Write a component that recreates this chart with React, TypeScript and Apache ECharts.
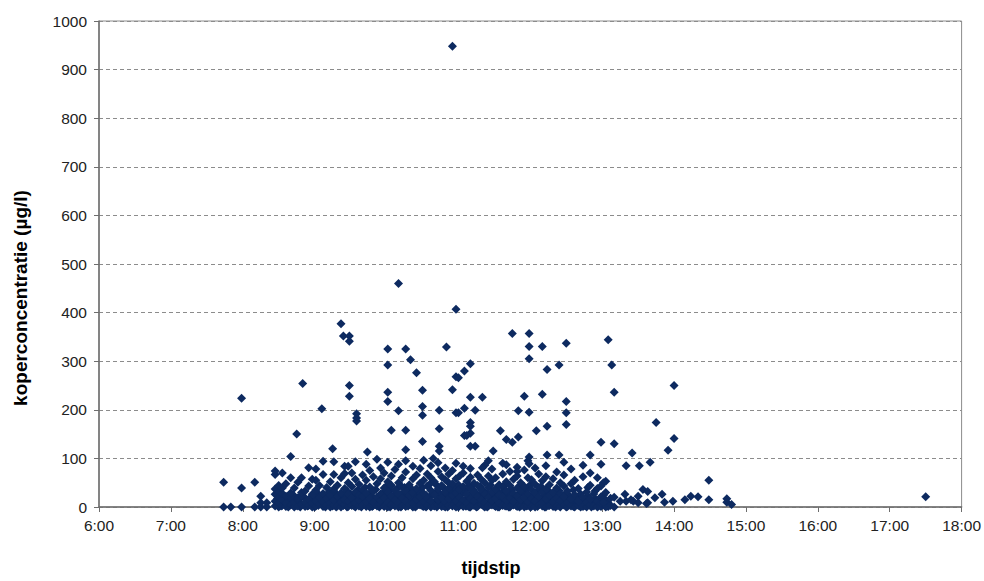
import React, { useEffect, useRef } from "react";
import * as echarts from "echarts";

// X tick labels (hours 6..18)
const xTickLabels = ["6:00", "7:00", "8:00", "9:00", "10:00", "11:00", "12:00", "13:00", "14:00", "15:00", "16:00", "17:00", "18:00"];
const yTickValues = [0, 100, 200, 300, 400, 500, 600, 700, 800, 900, 1000];

// Early-morning points (time, value)
const earlyPoints: [string, number][] = [
  ["7:44", 0], ["7:44", 51], ["7:50", 0], ["7:59", 0], ["7:59", 39], ["7:59", 224],
  ["8:10", 51], ["8:10", 0], ["8:15", 22], ["8:15", 9], ["8:15", 0], ["8:20", 9], ["8:20", 0],
];

// Dense low-concentration columns (time, values in µg/l)
const lowColumns: [string, number[]][] = [
  ["8:27", [2, 12, 26, 37, 67, 74]],
  ["8:30", [0, 8, 20, 31, 44]],
  ["8:33", [3, 15, 28, 39, 70]],
  ["8:36", [1, 9, 22, 48]],
  ["8:40", [4, 19, 29, 60]],
  ["8:43", [0, 11, 39]],
  ["8:46", [2, 14, 51, 19]],
  ["8:49", [5, 24, 60, 30]],
  ["8:52", [1, 10, 33]],
  ["8:55", [3, 16, 43, 81]],
  ["8:58", [0, 8, 26, 57]],
  ["9:01", [2, 13, 35, 78, 55]],
  ["9:04", [6, 20, 44]],
  ["9:07", [1, 11, 28, 67, 94]],
  ["9:10", [3, 17, 40]],
  ["9:13", [0, 9, 24, 52]],
  ["9:16", [4, 14, 33, 93, 67, 37]],
  ["9:19", [2, 21, 45]],
  ["9:22", [0, 10, 29, 60]],
  ["9:25", [5, 16, 38, 84, 69]],
  ["9:28", [1, 12, 26, 50, 84]],
  ["9:31", [3, 19, 42, 70]],
  ["9:34", [0, 8, 31, 57, 93]],
  ["9:37", [2, 15, 24, 47]],
  ["9:40", [4, 22, 36, 66]],
  ["9:43", [1, 11, 29, 55, 88]],
  ["9:46", [0, 17, 41, 75]],
  ["9:49", [3, 9, 33, 62]],
  ["9:52", [2, 20, 48, 98]],
  ["9:55", [5, 13, 27, 58, 80]],
  ["9:58", [1, 18, 39, 70]],
  ["10:01", [0, 10, 31, 52, 92]],
  ["10:04", [4, 22, 45, 64]],
  ["10:07", [2, 14, 35, 77]],
  ["10:10", [0, 8, 27, 50, 88]],
  ["10:13", [3, 19, 41, 60]],
  ["10:16", [1, 12, 33, 72, 95]],
  ["10:19", [5, 24, 46]],
  ["10:22", [0, 9, 30, 58, 84]],
  ["10:25", [2, 16, 38, 66]],
  ["10:28", [4, 21, 49, 79]],
  ["10:31", [1, 11, 28, 55, 96]],
  ["10:34", [3, 18, 43, 68]],
  ["10:37", [0, 13, 34, 60, 85]],
  ["10:40", [2, 25, 52]],
  ["10:43", [5, 15, 37, 73, 91]],
  ["10:46", [1, 20, 44, 62]],
  ["10:49", [0, 10, 31, 56, 80]],
  ["10:52", [3, 17, 39, 68]],
  ["10:55", [2, 23, 48, 75]],
  ["10:58", [0, 12, 29, 58, 90]],
  ["11:01", [4, 19, 36, 64]],
  ["11:04", [1, 14, 42, 70, 84]],
  ["11:07", [2, 8, 26, 53]],
  ["11:10", [0, 18, 38, 61, 79]],
  ["11:13", [3, 12, 30, 49]],
  ["11:16", [1, 22, 44, 66]],
  ["11:19", [5, 15, 35, 57]],
  ["11:22", [0, 10, 27, 50, 86]],
  ["11:25", [2, 20, 40, 64]],
  ["11:28", [4, 13, 31, 55, 78]],
  ["11:31", [1, 17, 37, 60]],
  ["11:34", [0, 9, 25, 46]],
  ["11:37", [3, 21, 41, 68, 90]],
  ["11:40", [2, 14, 33, 52]],
  ["11:43", [0, 18, 44, 73]],
  ["11:46", [4, 11, 28, 57]],
  ["11:49", [1, 23, 39, 64, 82]],
  ["11:52", [2, 15, 34, 50]],
  ["11:55", [0, 19, 42, 76]],
  ["11:58", [3, 10, 27, 60, 95]],
  ["12:01", [1, 17, 36, 56]],
  ["12:04", [0, 12, 29, 47, 80]],
  ["12:07", [4, 21, 40, 68]],
  ["12:10", [2, 9, 31, 54]],
  ["12:13", [0, 16, 37, 62, 85]],
  ["12:16", [3, 24, 46]],
  ["12:19", [1, 11, 30, 58]],
  ["12:22", [2, 18, 39, 72]],
  ["12:25", [0, 13, 28, 50]],
  ["12:28", [4, 20, 43, 66, 92]],
  ["12:31", [1, 10, 33]],
  ["12:34", [2, 17, 48, 78]],
  ["12:37", [0, 25, 55]],
  ["12:40", [3, 12, 38]],
  ["12:44", [1, 20, 62, 86]],
  ["12:47", [0, 9, 31]],
  ["12:50", [4, 16, 45, 70]],
  ["12:53", [2, 27]],
  ["12:56", [0, 11, 38, 60]],
  ["12:59", [1, 21, 9]],
  ["13:03", [0, 14, 30]],
  ["13:07", [3, 18]],
  ["13:10", [0]],
];

// Extra points filling the solid band near zero
const baseColumns: [string, number[]][] = [
  ["8:29", [5, 17]], ["8:32", [2, 24]], ["8:35", [6, 13]], ["8:38", [0, 16]], ["8:42", [7, 25]],
  ["8:45", [3, 12]], ["8:48", [0, 18]], ["8:51", [6, 21]], ["8:54", [2, 9]], ["8:57", [4, 19]],
  ["9:00", [0, 6, 22]], ["9:03", [3, 12, 27]], ["9:06", [5, 16]], ["9:09", [0, 8, 23]], ["9:12", [4, 13, 30]],
  ["9:15", [2, 7, 20]], ["9:18", [0, 11, 27]], ["9:21", [5, 17]], ["9:24", [3, 8, 22]], ["9:27", [0, 19, 33]],
  ["9:30", [6, 11, 26]], ["9:33", [2, 15, 21]], ["9:36", [5, 9, 35]], ["9:39", [0, 13, 28]], ["9:42", [6, 18, 40]],
  ["9:45", [3, 8, 26]], ["9:48", [1, 14, 22]], ["9:51", [5, 10, 36]], ["9:54", [0, 7, 19]], ["9:57", [4, 12, 29]],
  ["10:00", [2, 6, 21, 43]], ["10:03", [0, 15, 34]], ["10:06", [5, 9, 24]], ["10:09", [3, 16, 38]], ["10:12", [0, 7, 26]],
  ["10:15", [6, 20, 40]], ["10:18", [2, 13, 30]], ["10:21", [4, 18, 37]], ["10:24", [0, 7, 25]], ["10:27", [5, 11, 32]],
  ["10:30", [2, 17, 40]], ["10:33", [0, 8, 24]], ["10:36", [6, 21, 47]], ["10:39", [3, 9, 26]], ["10:42", [0, 14, 30, 44]],
  ["10:45", [5, 8, 27]], ["10:48", [2, 15, 38]], ["10:51", [0, 7, 24, 52]], ["10:54", [6, 12, 33]], ["10:57", [3, 18, 40]],
  ["11:00", [0, 7, 22, 46]], ["11:03", [5, 9, 28]], ["11:06", [2, 16, 34]], ["11:09", [0, 6, 24, 44]], ["11:12", [4, 20, 36]],
  ["11:15", [0, 8, 28]], ["11:18", [6, 11, 24, 42]], ["11:21", [2, 18, 33]], ["11:24", [0, 6, 26]], ["11:27", [5, 9, 22, 45]],
  ["11:30", [3, 12, 28]], ["11:33", [0, 16, 33]], ["11:36", [6, 10, 29]], ["11:39", [2, 7, 24, 47]], ["11:42", [0, 12, 31]],
  ["11:45", [5, 20, 36]], ["11:48", [3, 7, 17]], ["11:51", [0, 9, 27, 42]], ["11:54", [6, 13, 30]], ["11:57", [2, 22, 37]],
  ["12:00", [0, 7, 20, 46]], ["12:03", [4, 8, 24]], ["12:06", [1, 13, 32]], ["12:09", [6, 17, 42]], ["12:12", [0, 8, 25]],
  ["12:15", [3, 11, 34]], ["12:18", [5, 19, 22]], ["12:21", [0, 8, 27]], ["12:24", [3, 14, 34]], ["12:27", [6, 9, 23]],
  ["12:30", [0, 15, 29]], ["12:33", [4, 6, 22]], ["12:36", [1, 13, 35]], ["12:39", [6, 20]], ["12:42", [0, 8, 27]],
  ["12:45", [3, 14]], ["12:48", [5, 22, 40]], ["12:51", [0, 10]], ["12:54", [4, 17, 33]], ["12:57", [2, 6]],
  ["13:01", [4, 24]], ["13:05", [1, 8]],
];

// Higher values (>= ~85 µg/l) read individually
const highPoints: [string, number][] = [
  ["10:55", 948], ["10:10", 460], ["10:58", 407], ["9:22", 377], ["9:24", 352], ["9:29", 352], ["9:29", 341],
  ["10:01", 325], ["10:01", 292], ["10:01", 236], ["10:01", 217], ["10:16", 325], ["10:16", 158], ["10:16", 118],
  ["10:20", 303], ["10:25", 276], ["10:50", 329], ["10:58", 268], ["10:58", 194], ["10:55", 241],
  ["8:50", 254], ["9:29", 250], ["9:29", 228], ["9:06", 202], ["9:35", 192], ["9:35", 183], ["9:35", 177],
  ["10:10", 198], ["10:30", 240], ["10:30", 207], ["10:30", 189], ["10:30", 135],
  ["10:44", 199], ["10:44", 161], ["10:44", 125], ["10:44", 115], ["10:04", 158],
  ["8:45", 150], ["8:40", 104], ["9:15", 120], ["9:44", 113], ["10:39", 100],
  ["11:45", 357], ["11:59", 357], ["11:59", 330], ["11:59", 305], ["11:59", 195], ["11:59", 103], ["11:59", 89],
  ["12:10", 330], ["12:10", 232], ["12:30", 337], ["12:30", 217], ["12:30", 194], ["12:30", 170],
  ["12:24", 292], ["12:24", 107], ["12:14", 283], ["12:14", 166], ["12:14", 107],
  ["13:05", 344], ["13:08", 292], ["13:10", 236], ["13:10", 130], ["14:00", 250], ["14:00", 141],
  ["11:10", 295], ["11:10", 226], ["11:10", 174], ["11:10", 166], ["11:10", 152], ["11:10", 125],
  ["11:05", 280], ["11:05", 203], ["11:05", 147], ["11:00", 266], ["11:00", 194],
  ["11:20", 226], ["11:20", 81], ["11:55", 228], ["11:50", 198], ["11:50", 144],
  ["11:14", 199], ["11:14", 125], ["11:07", 147], ["11:35", 157], ["11:40", 139], ["11:45", 133],
  ["12:05", 157], ["11:29", 115], ["12:50", 107], ["12:59", 133], ["12:59", 88],
  ["13:25", 111], ["13:45", 174], ["13:55", 117], ["13:40", 92], ["13:31", 85], ["13:20", 85],
  ["11:25", 95], ["11:40", 87], ["11:49", 73], ["13:01", 50], ["12:59", 43], ["13:03", 53],
];

// Afternoon tail points
const tailPoints: [string, number][] = [
  ["13:10", 20], ["13:01", 15], ["13:01", 9], ["13:15", 12], ["13:19", 26], ["13:20", 12], ["13:24", 15],
  ["13:26", 12], ["13:30", 22], ["13:30", 9], ["13:34", 36], ["13:38", 32], ["13:38", 9], ["13:37", 7],
  ["13:44", 19], ["13:50", 26], ["13:52", 10], ["13:59", 12], ["14:09", 15], ["14:14", 22], ["14:20", 21],
  ["14:29", 15], ["14:29", 55], ["14:44", 17], ["14:44", 10], ["14:48", 5], ["17:30", 21],
];

const toHours = (s: string) => {
  const [h, m] = s.split(":").map(Number);
  return h + m / 60;
};

export default function App() {
  const ref = useRef<HTMLDivElement>(null);
  useEffect(() => {
    if (!ref.current) return;
    const chart = echarts.init(ref.current, undefined, { renderer: "svg" });
    const data: [number, number][] = [];
    earlyPoints.forEach(([t, v]) => data.push([toHours(t), v]));
    baseColumns.forEach(([t, vs]) => vs.forEach((v) => data.push([toHours(t), v])));
    lowColumns.forEach(([t, vs]) => vs.forEach((v) => data.push([toHours(t), v])));
    highPoints.forEach(([t, v]) => data.push([toHours(t), v]));
    tailPoints.forEach(([t, v]) => data.push([toHours(t), v]));

    const font = "'Liberation Sans', Arial, sans-serif";
    chart.setOption({
      animation: false,
      backgroundColor: "#ffffff",
      grid: {
        left: 99,
        right: 22,
        top: 21,
        bottom: 74,
        show: true,
        borderColor: "#8c8c8c",
        borderWidth: 1,
        backgroundColor: "transparent",
      },
      xAxis: {
        type: "value",
        min: 6,
        max: 18,
        interval: 1,
        axisLine: { show: true, onZero: false, lineStyle: { color: "#6e6e6e", width: 1.5 } },
        axisTick: { show: true, inside: false, length: 5, lineStyle: { color: "#6e6e6e" } },
        axisLabel: {
          color: "#222",
          fontFamily: font,
          fontSize: 15.5,
          margin: 10,
          formatter: (v: number) => xTickLabels[Math.round(v) - 6] ?? "",
        },
        splitLine: { show: false },
      },
      yAxis: {
        type: "value",
        min: yTickValues[0],
        max: yTickValues[yTickValues.length - 1],
        interval: 100,
        axisLine: { show: true, lineStyle: { color: "#6e6e6e", width: 1.5 } },
        axisTick: { show: true, inside: false, length: 5, lineStyle: { color: "#6e6e6e" } },
        axisLabel: { color: "#222", fontFamily: font, fontSize: 15.5, margin: 12, formatter: (v: number) => String(v) },
        splitLine: { show: true, lineStyle: { color: "#8c8c8c", type: [4, 3], width: 1 } },
      },
      graphic: [
        {
          type: "text",
          x: 20,
          y: 298,
          rotation: Math.PI / 2,
          style: {
            text: "koperconcentratie (µg/l)",
            fill: "#000",
            font: `bold 19px ${font}`,
            textAlign: "center",
            textVerticalAlign: "middle",
          },
        },
        {
          type: "text",
          x: 491,
          y: 568,
          style: {
            text: "tijdstip",
            fill: "#000",
            font: `bold 18px ${font}`,
            textAlign: "center",
            textVerticalAlign: "middle",
          },
        },
      ],
      series: [
        {
          type: "scatter",
          data,
          symbol: "diamond",
          symbolSize: [9, 9],
          itemStyle: { color: "#0d2a60", opacity: 1 },
          emphasis: { disabled: true },
        },
      ],
    });
    return () => chart.dispose();
  }, []);
  return <div ref={ref} style={{ position: "fixed", left: 0, top: 0, width: 984, height: 581, background: "#fff" }} />;
}
